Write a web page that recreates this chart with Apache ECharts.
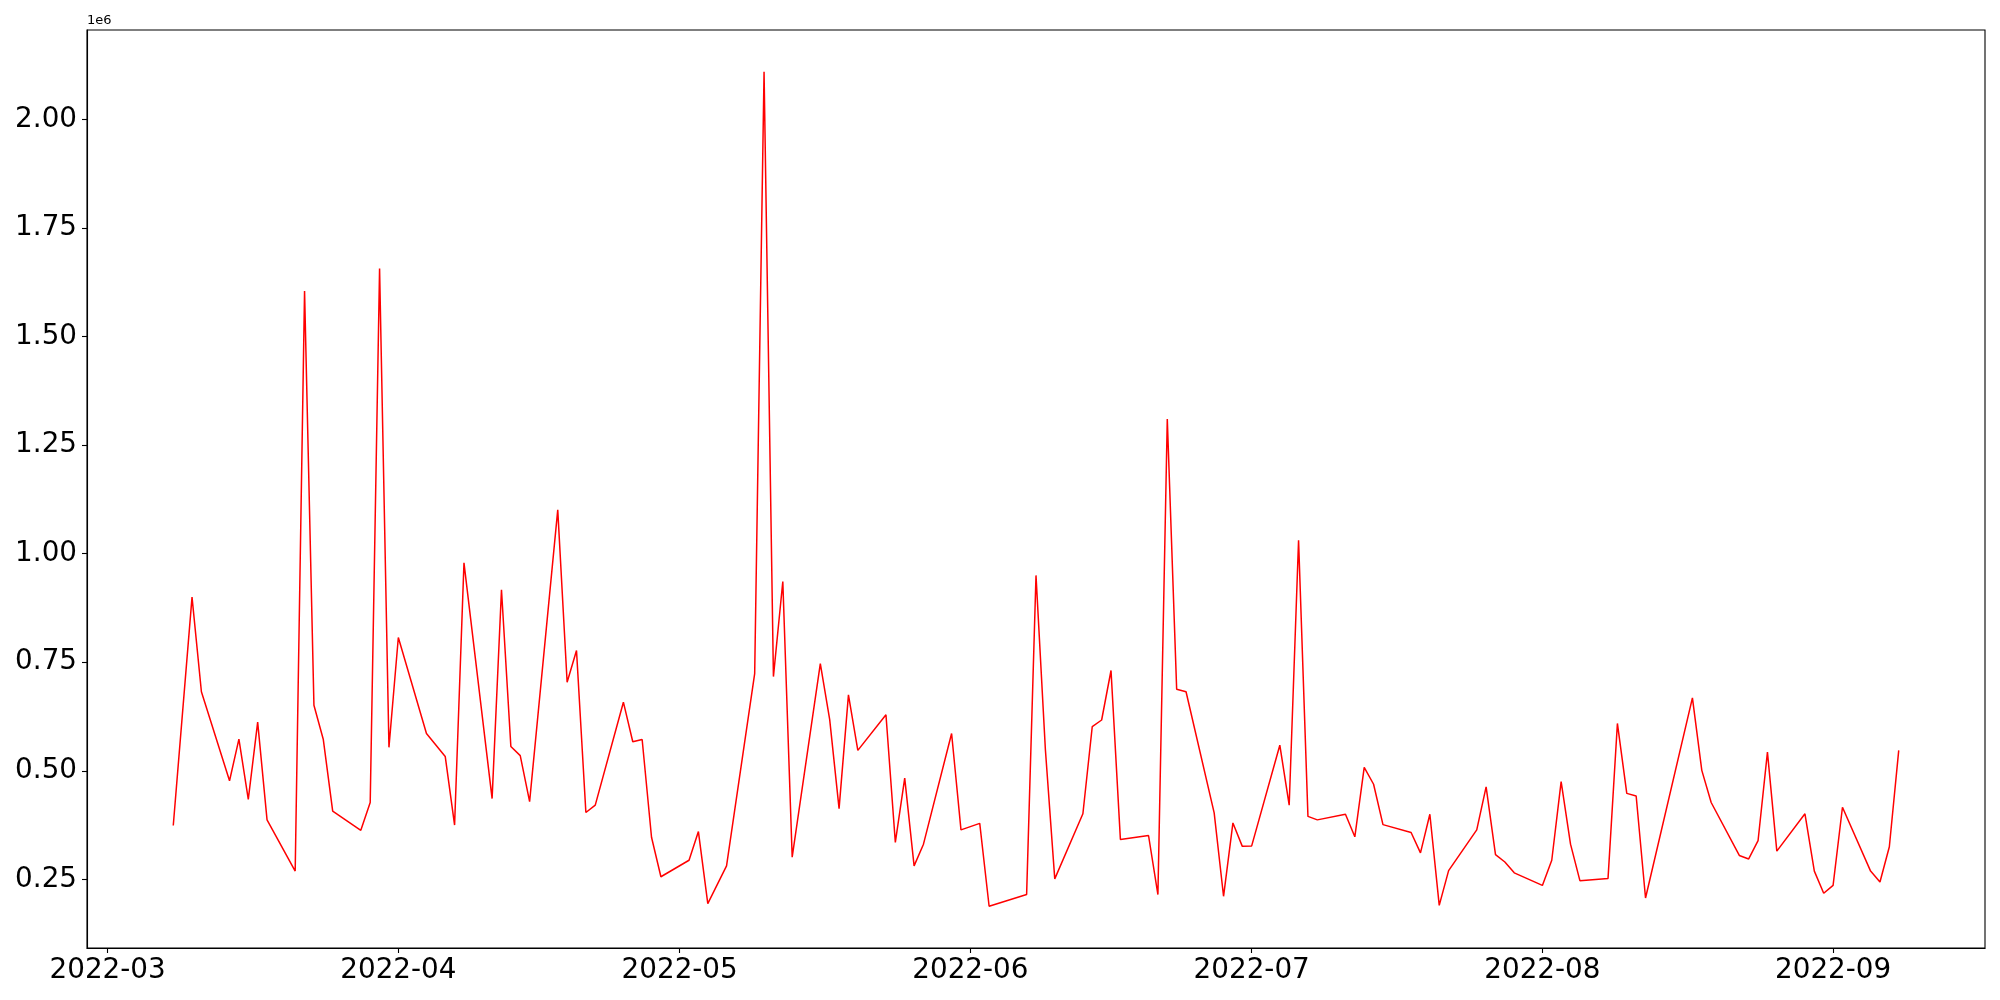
<!DOCTYPE html>
<html>
<head>
<meta charset="utf-8">
<script src="https://cdn.jsdelivr.net/npm/echarts@6/dist/echarts.min.js"></script>
<style>
  html, body { margin: 0; padding: 0; background: #fff; }
  #chart { width: 2000px; height: 1000px; }
</style>
</head>
<body>
<div id="chart"></div>
<script>
// ---- data ----
const dates = [
  '2022-03-08','2022-03-10','2022-03-11','2022-03-14','2022-03-15','2022-03-16','2022-03-17','2022-03-18',
  '2022-03-21','2022-03-22','2022-03-23','2022-03-24','2022-03-25','2022-03-28','2022-03-29','2022-03-30',
  '2022-03-31','2022-04-01','2022-04-04','2022-04-06','2022-04-07','2022-04-08','2022-04-11','2022-04-12',
  '2022-04-13','2022-04-14','2022-04-15','2022-04-18','2022-04-19','2022-04-20','2022-04-21','2022-04-22',
  '2022-04-25','2022-04-26','2022-04-27','2022-04-28','2022-04-29','2022-05-02','2022-05-03','2022-05-04',
  '2022-05-06','2022-05-09','2022-05-10','2022-05-11','2022-05-12','2022-05-13','2022-05-16','2022-05-17',
  '2022-05-18','2022-05-19','2022-05-20','2022-05-23','2022-05-24','2022-05-25','2022-05-26','2022-05-27',
  '2022-05-30','2022-05-31','2022-06-02','2022-06-03','2022-06-07','2022-06-08','2022-06-09','2022-06-10',
  '2022-06-13','2022-06-14','2022-06-15','2022-06-16','2022-06-17','2022-06-20','2022-06-21','2022-06-22',
  '2022-06-23','2022-06-24','2022-06-27','2022-06-28','2022-06-29','2022-06-30','2022-07-01','2022-07-04',
  '2022-07-05','2022-07-06','2022-07-07','2022-07-08','2022-07-11','2022-07-12','2022-07-13','2022-07-14',
  '2022-07-15','2022-07-18','2022-07-19','2022-07-20','2022-07-21','2022-07-22','2022-07-25','2022-07-26',
  '2022-07-27','2022-07-28','2022-07-29','2022-08-01','2022-08-02','2022-08-03','2022-08-04','2022-08-05',
  '2022-08-08','2022-08-09','2022-08-10','2022-08-11','2022-08-12','2022-08-17','2022-08-18','2022-08-19',
  '2022-08-22','2022-08-23','2022-08-24','2022-08-25','2022-08-26','2022-08-29','2022-08-30','2022-08-31',
  '2022-09-01','2022-09-02','2022-09-05','2022-09-06','2022-09-07','2022-09-08'
];
const values = [
  374000, 900000, 682000, 477000, 573000, 434000, 612000, 387000,
  269000, 1605000, 651000, 572000, 407000, 363000, 427000, 1657000,
  554000, 807000, 586000, 533000, 375000, 979000, 436000, 917000,
  556000, 535000, 429000, 1101000, 704000, 777000, 404000, 421000,
  658000, 567000, 572000, 347000, 256000, 294000, 360000, 194000,
  281000, 724000, 2110000, 717000, 936000, 301000, 747000, 618000,
  413000, 675000, 547000, 629000, 335000, 483000, 281000, 331000,
  586000, 364000, 379000, 188000, 215000, 950000, 549000, 251000,
  401000, 602000, 617000, 731000, 342000, 351000, 215000, 1310000,
  688000, 682000, 403000, 211000, 380000, 326000, 327000, 559000,
  421000, 1031000, 395000, 387000, 400000, 348000, 508000, 469000,
  376000, 358000, 311000, 400000, 190000, 270000, 364000, 463000,
  307000, 290000, 265000, 236000, 294000, 475000, 331000, 247000,
  252000, 609000, 448000, 442000, 207000, 668000, 501000, 427000,
  305000, 297000, 339000, 543000, 315000, 401000, 269000, 218000,
  236000, 416000, 269000, 244000, 325000, 547000
];
const yTickValues = [250000, 500000, 750000, 1000000, 1250000, 1500000, 1750000, 2000000];

// ---- helpers ----
function parseDate(s) {
  const p = s.split('-').map(Number);
  return new Date(p[0], p[1] - 1, p[2]).getTime();
}
const seriesData = dates.map((d, i) => [parseDate(d), values[i]]);

// matplotlib-like 5% margins
const xs = seriesData.map(p => p[0]);
const xMinD = Math.min(...xs), xMaxD = Math.max(...xs);
const xPad = (xMaxD - xMinD) * 0.05;
const yMinD = Math.min(...values), yMaxD = Math.max(...values);
const yPad = (yMaxD - yMinD) * 0.05;

const DAY = 24 * 3600 * 1000;
const FONT = 'DejaVu Sans';

const chart = echarts.init(document.getElementById('chart'), null, { renderer: 'canvas' });
chart.setOption({
  animation: false,
  backgroundColor: '#ffffff',
  grid: {
    left: 87, top: 30, right: 15, bottom: 52,
    show: true, borderColor: '#000', borderWidth: 1.1, backgroundColor: 'transparent'
  },
  graphic: [{
    type: 'text', left: 87, top: 14,
    style: { text: '1e6', font: '13px "DejaVu Sans"', fill: '#000' }
  }],
  xAxis: {
    type: 'time',
    min: xMinD - xPad,
    max: xMaxD + xPad,
    minInterval: 28 * DAY,
    maxInterval: 31 * DAY,
    splitLine: { show: false },
    axisLine: { show: true, lineStyle: { color: '#000', width: 1.1 } },
    axisTick: { show: true, inside: false, length: 5, lineStyle: { color: '#000', width: 1.1 } },
    minorTick: { show: false },
    axisLabel: {
      margin: 9,
      showMinLabel: false, showMaxLabel: false,
      fontFamily: FONT, fontSize: 27.8, color: '#000',
      formatter: function (v) {
        const d = new Date(v);
        const m = d.getMonth() + 1;
        return d.getFullYear() + '-' + (m < 10 ? '0' + m : m);
      }
    }
  },
  yAxis: {
    type: 'value',
    min: yMinD - yPad,
    max: yMaxD + yPad,
    splitLine: { show: false },
    axisLine: { show: true, lineStyle: { color: '#000', width: 1.1 } },
    axisTick: { show: true, inside: false, length: 5, lineStyle: { color: '#000', width: 1.1 }, customValues: yTickValues },
    axisLabel: {
      customValues: yTickValues,
      margin: 10,
      fontFamily: FONT, fontSize: 27.8, color: '#000',
      formatter: function (v) { return (v / 1e6).toFixed(2); }
    }
  },
  series: [{
    type: 'line',
    data: seriesData,
    showSymbol: false,
    symbol: 'none',
    lineStyle: { color: '#ff0000', width: 1.5 },
    itemStyle: { color: '#ff0000' }
  }]
});
</script>
</body>
</html>
